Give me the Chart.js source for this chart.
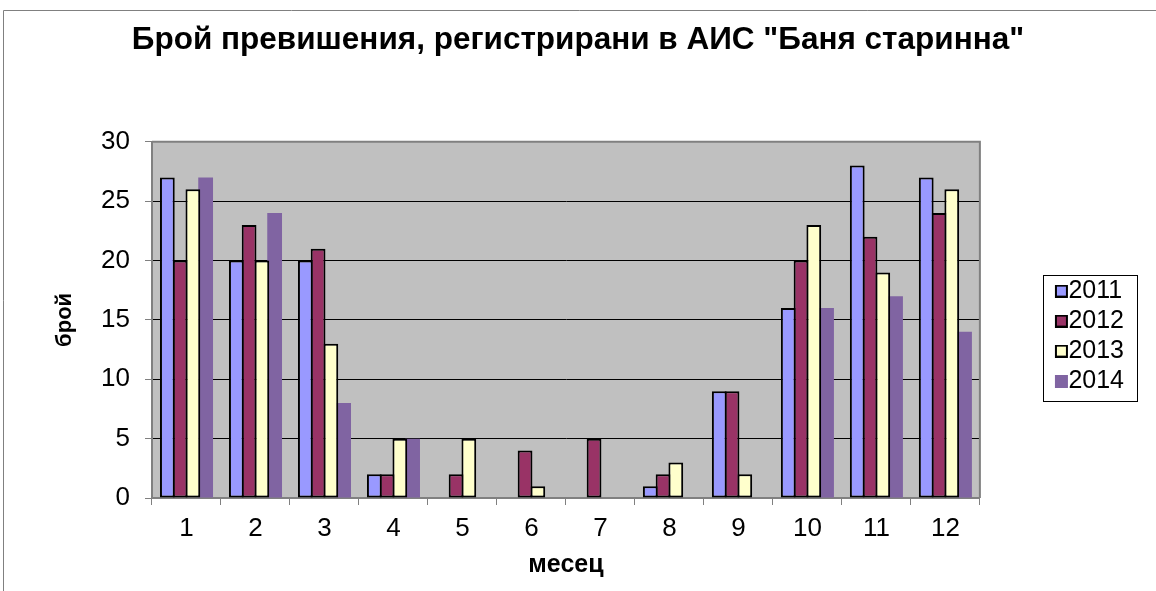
<!DOCTYPE html>
<html>
<head>
<meta charset="utf-8">
<script src="https://cdn.jsdelivr.net/npm/chart.js@4"></script>
<style>
    html, body { margin: 0; padding: 0; background: #fff; }
    #wrap { width: 1156px; height: 591px; }
</style>
</head>
<body>
<div id="wrap"><canvas id="excessChart" width="1156" height="591"></canvas></div>
<script>
// Месеци и брой превишения по години
const months = ['1', '2', '3', '4', '5', '6', '7', '8', '9', '10', '11', '12'];
const years = ['2011', '2012', '2013', '2014'];
const counts2011 = [27, 20, 20, 2, 0, 0, 0, 1, 9, 16, 28, 27];
const counts2012 = [20, 23, 21, 2, 2, 4, 5, 2, 9, 20, 22, 24];
const counts2013 = [26, 20, 13, 5, 5, 1, 0, 3, 2, 23, 19, 26];
const counts2014 = [27, 24, 8, 5, 0, 0, 0, 0, 0, 16, 17, 14];
const yTicks = [0, 5, 10, 15, 20, 25, 30];

const fontFamily = '"Liberation Sans", Arial, sans-serif';

// малко квадратче за легендата, изместено надясно, за да е текстът плътно до него
function makeMarker(fill, lw) {
    const c = document.createElement('canvas');
    c.width = 27;
    c.height = 13;
    const g = c.getContext('2d');
    g.fillStyle = fill;
    g.fillRect(13, 0, 13, 13);
    if (lw) {
        g.strokeStyle = '#000';
        g.lineWidth = lw;
        g.strokeRect(13 + lw / 2, lw / 2, 13 - lw, 13 - lw);
    }
    return c;
}

document.addEventListener('DOMContentLoaded', function() {
    // фон на графиката, рамки и рамка на легендата
    const framePlugin = {
        id: 'frames',
        beforeDraw(chart) {
            const ctx = chart.ctx;
            const a = chart.chartArea;
            ctx.save();
            ctx.strokeStyle = '#808080';
            ctx.lineWidth = 1;
            ctx.beginPath();
            ctx.moveTo(3.5, chart.height);
            ctx.lineTo(3.5, 10.5);
            ctx.lineTo(chart.width, 10.5);
            ctx.stroke();
            ctx.fillStyle = '#C0C0C0';
            ctx.fillRect(a.left, a.top, a.right - a.left, a.bottom - a.top);
            ctx.restore();
        },
        afterDraw(chart) {
            const ctx = chart.ctx;
            const a = chart.chartArea;
            ctx.save();
            ctx.strokeStyle = '#808080';
            ctx.lineWidth = 2;
            ctx.beginPath();
            ctx.moveTo(a.left, a.top);
            ctx.lineTo(a.right, a.top);
            ctx.lineTo(a.right, a.bottom);
            ctx.stroke();

            const lg = chart.legend;
            const pad = lg.options.labels.padding;
            const colH = lg.columnSizes[0].height;
            const y0 = (lg.top + lg._computeTitleHeight() + pad + lg.bottom - colH) / 2;
            ctx.lineWidth = 1;
            ctx.strokeStyle = '#000';
            ctx.strokeRect(Math.round(lg.left) - 6.5, Math.round(y0) - 3.5, 94, colH + 6);
            ctx.restore();
        }
    };

    const ctx = document.getElementById('excessChart').getContext('2d');
    const excessChart = new Chart(ctx, {
        type: 'bar',
        data: {
            labels: months,
            datasets: [{
                label: years[0],
                data: counts2011,
                backgroundColor: '#9999FF',
                borderColor: '#000',
                borderWidth: 2,
                pointStyle: makeMarker('#9999FF', 2)
            }, {
                label: years[1],
                data: counts2012,
                backgroundColor: '#993366',
                borderColor: '#000',
                borderWidth: 2,
                pointStyle: makeMarker('#993366', 2)
            }, {
                label: years[2],
                data: counts2013,
                backgroundColor: '#FFFFCC',
                borderColor: '#000',
                borderWidth: 2,
                pointStyle: makeMarker('#FFFFCC', 2)
            }, {
                label: years[3],
                data: counts2014,
                backgroundColor: '#8064A2',
                borderColor: '#8064A2',
                borderWidth: 0,
                pointStyle: makeMarker('#8064A2', 0)
            }]
        },
        options: {
            responsive: false,
            animation: false,
            devicePixelRatio: 1,
            datasets: {
                bar: {
                    categoryPercentage: 0.74,
                    barPercentage: 1.157,
                    borderSkipped: false
                }
            },
            layout: {
                padding: 0
            },
            plugins: {
                title: {
                    display: true,
                    text: 'Брой превишения, регистрирани в АИС "Баня старинна"',
                    color: '#000',
                    font: { family: fontFamily, size: 31.5, weight: 'bold' },
                    padding: { top: 21, bottom: 83 }
                },
                legend: {
                    position: 'right',
                    fullSize: false,
                    title: { display: true, text: '', padding: { top: 9, bottom: 9 } },
                    labels: {
                        color: '#000',
                        font: { family: fontFamily, size: 25 },
                        usePointStyle: true,
                        pointStyleWidth: 1,
                        padding: 5
                    }
                },
                tooltip: { enabled: false }
            },
            scales: {
                x: {
                    grid: {
                        offset: true,
                        drawOnChartArea: false,
                        tickLength: 7,
                        tickColor: '#808080'
                    },
                    border: { color: '#808080', width: 2 },
                    ticks: {
                        color: '#000',
                        font: { family: fontFamily, size: 26 },
                        padding: 8
                    },
                    title: {
                        display: true,
                        text: 'месец',
                        color: '#000',
                        font: { family: fontFamily, size: 25, weight: 'bold' },
                        padding: { top: 0, bottom: 11 }
                    },
                    afterFit: function(scale) { scale.height = 93; }
                },
                y: {
                    min: 0,
                    max: 30,
                    afterBuildTicks: function(scale) {
                        scale.ticks = yTicks.map(v => ({ value: v }));
                    },
                    grid: {
                        color: '#000',
                        lineWidth: 1,
                        tickLength: 7,
                        tickColor: '#808080'
                    },
                    border: { color: '#808080', width: 2 },
                    ticks: {
                        color: '#000',
                        font: { family: fontFamily, size: 26 },
                        padding: 15
                    },
                    title: {
                        display: true,
                        text: 'брой',
                        color: '#000',
                        font: { family: fontFamily, size: 22, weight: 'bold' },
                        padding: { top: 52, bottom: 0 }
                    },
                    afterFit: function(scale) { scale.width = 152; }
                },
                // празни скали само за отстояние около легендата
                spacer: {
                    type: 'linear',
                    position: 'right',
                    grid: { display: false },
                    border: { display: false },
                    ticks: { display: false },
                    afterFit: function(scale) { scale.width = 70; }
                },
                spacerOuter: {
                    type: 'linear',
                    position: 'right',
                    weight: 2000,
                    grid: { display: false },
                    border: { display: false },
                    ticks: { display: false },
                    afterFit: function(scale) { scale.width = 22; }
                }
            }
        },
        plugins: [framePlugin]
    });
});
</script>
</body>
</html>
